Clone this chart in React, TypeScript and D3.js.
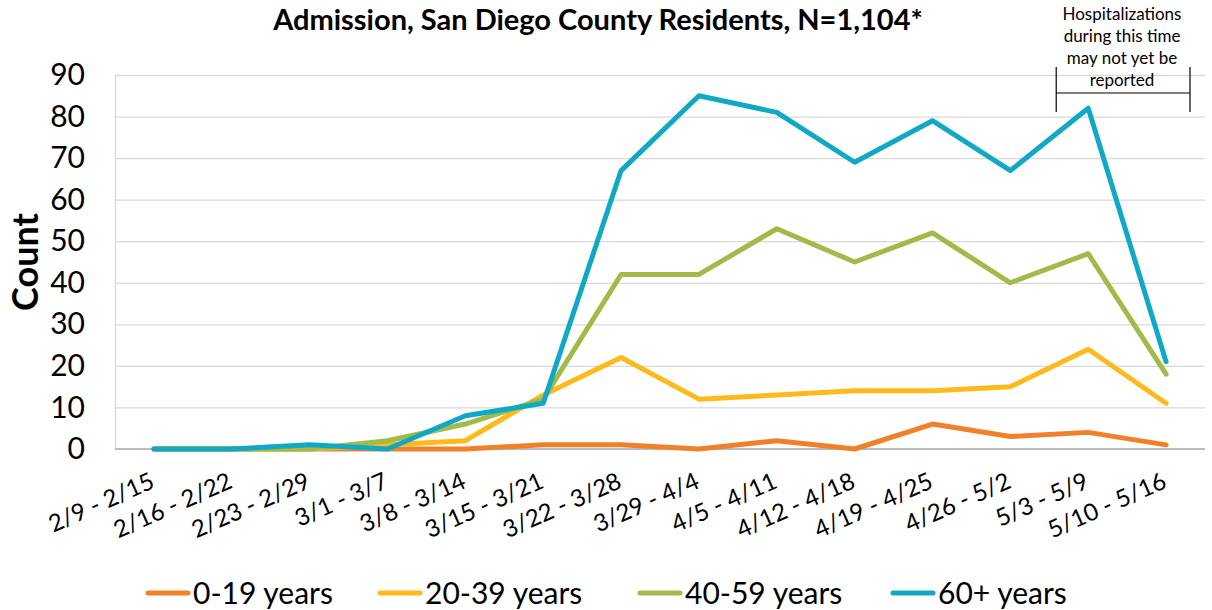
import { useEffect, useRef } from 'react'
import * as d3 from 'd3'

const weeks = [
  '2/9 - 2/15', '2/16 - 2/22', '2/23 - 2/29', '3/1 - 3/7', '3/8 - 3/14', '3/15 - 3/21',
  '3/22 - 3/28', '3/29 - 4/4', '4/5 - 4/11', '4/12 - 4/18', '4/19 - 4/25', '4/26 - 5/2',
  '5/3 - 5/9', '5/10 - 5/16',
]
const age0to19 = [0, 0, 0, 0, 0, 1, 1, 0, 2, 0, 6, 3, 4, 1]
const age20to39 = [0, 0, 0, 1, 2, 13, 22, 12, 13, 14, 14, 15, 24, 11]
const age40to59 = [0, 0, 0, 2, 6, 12, 42, 42, 53, 45, 52, 40, 47, 18]
const age60plus = [0, 0, 1, 0, 8, 11, 67, 85, 81, 69, 79, 67, 82, 21]
const yTicks = [0, 10, 20, 30, 40, 50, 60, 70, 80, 90]
const noteLines = ['Hospitalizations', 'during this time', 'may not yet be', 'reported']

const series = [
  { name: '0-19 years', values: age0to19, color: '#F0802A' },
  { name: '20-39 years', values: age20to39, color: '#FDBA1A' },
  { name: '40-59 years', values: age40to59, color: '#A2BA49' },
  { name: '60+ years', values: age60plus, color: '#10A9C5' },
]

const W = 1212
const H = 610
const M = { top: 75, right: 7, bottom: 161, left: 115 }
const FONT = 'Lato, "Open Sans", sans-serif'

export default function App() {
  const svgRef = useRef<SVGSVGElement>(null)

  useEffect(() => {
    const el = svgRef.current
    if (!el) return
    const svg = d3.select(el)
    svg.selectAll('*').remove()

    const iW = W - M.left - M.right
    const iH = H - M.top - M.bottom

    const x = d3.scalePoint<string>().domain(weeks).range([0, iW]).padding(0.5)
    const y = d3.scaleLinear().domain([0, 90]).range([iH, 0])

    // title
    svg.append('text')
      .attr('x', 598).attr('y', 30)
      .attr('text-anchor', 'middle')
      .attr('font-family', FONT).attr('font-weight', 700).attr('font-size', 29)
      .attr('fill', '#000')
      .text('Admission, San Diego County Residents, N=1,104*')

    const root = svg.append('g').attr('transform', `translate(${M.left},${M.top})`)

    // gridlines
    root.append('g')
      .call(d3.axisLeft(y).tickValues(yTicks.slice(1)).tickSize(-iW).tickFormat(() => ''))
      .call((g) => g.select('.domain').remove())
      .call((g) => g.selectAll('.tick line').attr('stroke', '#d9d9d9').attr('stroke-width', 1.3))

    // y axis labels
    root.append('g')
      .call(d3.axisLeft(y).tickValues(yTicks).tickSize(0).tickPadding(30))
      .call((g) => g.select('.domain').attr('stroke', '#d9d9d9').attr('stroke-width', 1.3))
      .call((g) => g.selectAll('.tick text')
        .attr('font-family', FONT).attr('font-size', 30).attr('fill', '#000'))

    // x axis baseline
    root.append('line')
      .attr('x1', 0).attr('x2', iW).attr('y1', iH).attr('y2', iH)
      .attr('stroke', '#a6a6a6').attr('stroke-width', 1.5)

    // x labels
    root.append('g').selectAll('text')
      .data(weeks)
      .join('text')
      .attr('transform', (d) => `translate(${(x(d) ?? 0) + 2},${iH + 38}) rotate(-24)`)
      .attr('text-anchor', 'end')
      .attr('font-family', FONT).attr('font-size', 24).attr('fill', '#000')
      .text((d) => d)

    // lines
    const line = d3.line<number>()
      .x((_, i) => x(weeks[i]) ?? 0)
      .y((v) => y(v))

    root.append('g').selectAll('path')
      .data(series)
      .join('path')
      .attr('d', (s) => line(s.values))
      .attr('fill', 'none')
      .attr('stroke', (s) => s.color)
      .attr('stroke-width', 5)
      .attr('stroke-linecap', 'round')
      .attr('stroke-linejoin', 'round')

    // y axis title
    svg.append('text')
      .attr('transform', `translate(38,${M.top + iH / 2}) rotate(-90)`)
      .attr('text-anchor', 'middle')
      .attr('font-family', FONT).attr('font-weight', 700).attr('font-size', 36)
      .attr('fill', '#000')
      .text('Count')

    // annotation
    const note = svg.append('g')
    note.selectAll('text')
      .data(noteLines)
      .join('text')
      .attr('x', 1122).attr('y', (_, i) => 20 + i * 22)
      .attr('text-anchor', 'middle')
      .attr('font-family', FONT).attr('font-size', 17).attr('fill', '#000')
      .text((d) => d)
    const bx0 = (x(weeks[12]) ?? 0) + M.left - 32
    const bx1 = W - 22
    note.append('line').attr('x1', bx0).attr('x2', bx1).attr('y1', 93).attr('y2', 93)
      .attr('stroke', '#000').attr('stroke-width', 1.2)
    ;[bx0, bx1].forEach((bx) => {
      note.append('line').attr('x1', bx).attr('x2', bx).attr('y1', 67).attr('y2', 112)
        .attr('stroke', '#000').attr('stroke-width', 1.2)
    })

    // legend
    const legendX = [148, 380, 640, 893]
    const leg = svg.append('g').selectAll('g')
      .data(series)
      .join('g')
      .attr('transform', (_, i) => `translate(${legendX[i]},593)`)
    leg.append('line')
      .attr('x1', 0).attr('x2', 40).attr('y1', 0).attr('y2', 0)
      .attr('stroke', (s) => s.color).attr('stroke-width', 5).attr('stroke-linecap', 'round')
    leg.append('text')
      .attr('x', 45).attr('y', 11)
      .attr('font-family', FONT).attr('font-size', 30).attr('fill', '#000')
      .text((s) => s.name)
  }, [])

  return <svg ref={svgRef} width={W} height={H} style={{ display: 'block', position: 'absolute', left: 0, top: 0 }} />
}
